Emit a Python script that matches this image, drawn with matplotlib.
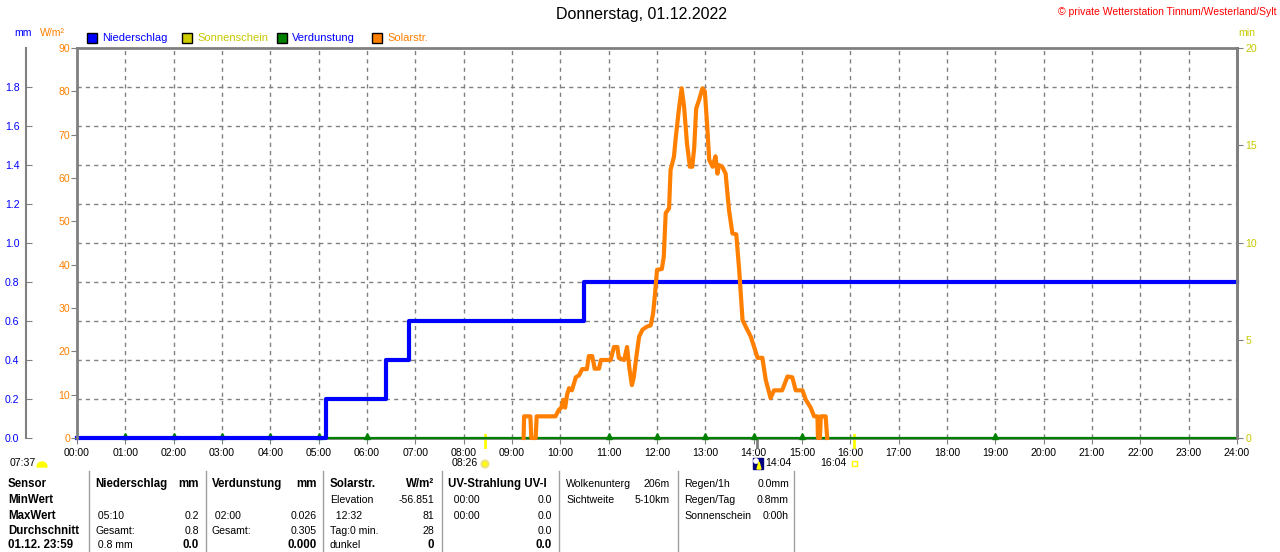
import matplotlib
matplotlib.use('Agg')
import matplotlib.pyplot as plt
import numpy as np
from matplotlib import font_manager
from matplotlib.patches import Rectangle, Wedge, Circle, Polygon
from matplotlib.lines import Line2D
from matplotlib.transforms import IdentityTransform

# --- data -------------------------------------------------------------
hours = list(range(25))
hour_labels = ['%02d:00' % h for h in hours]

# Niederschlag (mm, cumulative)
rain_t = [0.0, 5.15, 6.39, 6.87, 10.48, 24.0]
rain_v = [0.0, 0.2, 0.4, 0.6, 0.8, 0.8]

# Verdunstung (mm)
evap_t = [1, 2, 3, 4, 5, 6, 11, 12, 13, 14, 15, 19]
evap_v = [0.012, 0.012, 0.012, 0.012, 0.012, 0.012, 0.012, 0.012, 0.012, 0.012, 0.012, 0.012]
evap_line_t = [0.0, 24.0]
evap_line_v = [0.0, 0.0]

# Solarstrahlung (W/m2)
sol_t = [9.24, 9.25, 9.38, 9.40, 9.49, 9.51, 9.90, 9.97, 10.02, 10.06, 10.10, 10.14,
         10.18, 10.24, 10.32, 10.39, 10.45, 10.55, 10.59, 10.66, 10.71, 10.80, 10.84,
         11.04, 11.11, 11.18, 11.21, 11.32, 11.38, 11.43, 11.48, 11.52, 11.57, 11.63,
         11.70, 11.79, 11.87, 11.92, 11.96, 12.00, 12.10, 12.14, 12.18, 12.25, 12.28,
         12.35, 12.39, 12.46, 12.51, 12.56, 12.62, 12.68, 12.73, 12.77, 12.81, 12.87,
         12.94, 12.99, 13.04, 13.08, 13.15, 13.21, 13.25, 13.28, 13.35, 13.42, 13.49,
         13.56, 13.64, 13.70, 13.77, 13.84, 13.94, 14.01, 14.08, 14.18, 14.25, 14.35,
         14.42, 14.59, 14.70, 14.80, 14.87, 15.01, 15.08, 15.18, 15.25, 15.32, 15.33,
         15.37, 15.39, 15.49, 15.52]
sol_v = [0, 5, 5, 0, 0, 5, 5, 6.5, 7, 8.8, 7, 10,
         11.5, 11, 14, 14.5, 15.9, 15.9, 18.9, 18.9, 16, 16, 18,
         18, 21, 21, 18.5, 18, 21, 16, 12.2, 14, 18.5, 23.4,
         25, 25.7, 26, 28.8, 33.4, 38.8, 39, 41.8, 51.9, 53, 61.8,
         64.9, 69.5, 76.5, 80.7, 76.5, 68, 62.6, 62.6, 67, 76, 78,
         80.7, 80, 71.8, 64.2, 62.6, 65, 61, 63, 62.6, 61, 52.6,
         47.2, 47, 38.8, 27.2, 25.6, 23.4, 21, 18.5, 18.5, 13.4, 9.2,
         11, 11, 14.2, 14, 11, 11, 8.8, 7, 5, 5, 0,
         0, 5, 5, 0]

mm_ticks = [0.0, 0.2, 0.4, 0.6, 0.8, 1.0, 1.2, 1.4, 1.6, 1.8]
sol_ticks = [0, 10, 20, 30, 40, 50, 60, 70, 80, 90]
min_ticks = [0, 5, 10, 15, 20]

sunrise, sunset, culm = 8.433, 16.067, 14.067

legend_items = ['Niederschlag', 'Sonnenschein', 'Verdunstung', 'Solarstr.']

# table: (x_left, x_right, [(left text, right text, bold left, bold right), ...])
table_cols = [
    (8, None, [('Sensor', '', 1, 0), ('MinWert', '', 1, 0), ('MaxWert', '', 1, 0),
               ('Durchschnitt', '', 1, 0), ('01.12. 23:59', '', 1, 0)]),
    (95, 199, [('Niederschlag', 'mm', 1, 1), ('', '', 0, 0), (' 05:10', '0.2', 0, 0),
               ('Gesamt:', '0.8', 0, 0), (' 0.8 mm', '0.0', 0, 1)]),
    (212, 317, [('Verdunstung', 'mm', 1, 1), ('', '', 0, 0), (' 02:00', '0.026', 0, 0),
                ('Gesamt:', '0.305', 0, 0), ('', '0.000', 0, 1)]),
    (330, 434, [('Solarstr.', 'W/m²', 1, 1), ('Elevation', '-56.851', 0, 0), ('  12:32', '81', 0, 0),
                ('Tag:0 min.', '28', 0, 0), ('dunkel', '0', 0, 1)]),
    (448, 552, [('UV-Strahlung UV-I', '', 1, 0), ('  00:00', '0.0', 0, 0), ('  00:00', '0.0', 0, 0),
                ('', '0.0', 0, 0), ('', '0.0', 0, 1)]),
    (566, 670, [('Wolkenunterg', '206m', 0, 0), ('Sichtweite', '5-10km', 0, 0)]),
    (684, 789, [('Regen/1h', '0.0mm', 0, 0), ('Regen/Tag', '0.8mm', 0, 0),
                ('Sonnenschein', '0:00h', 0, 0)]),
]
table_rows_y = [484, 500, 516, 531, 545]
table_lines_x = [89, 206, 323, 442, 559, 678, 794]

# --- style ------------------------------------------------------------
names = {f.name for f in font_manager.fontManager.ttflist}
if 'Liberation Sans Narrow' in names:
    FONT, K = 'Liberation Sans Narrow', 1 / 0.82
else:
    FONT, K = 'Liberation Sans', 1.0
plt.rcParams['font.family'] = [FONT, 'DejaVu Sans']

BLUE = '#0000FF'
ORANGE = '#FF8000'
YEL = '#C8C800'
GREEN = '#008000'
GREY = '#808080'
TS = 7.6 * K  # tick label size

W, H = 1280, 552
fig = plt.figure(figsize=(12.8, 5.52), dpi=100)
ident = IdentityTransform()


def txt(x, y, s, size=7.6, color='black', ha='left', bold=False):
    fig.text(x / W, 1 - y / H, s, fontsize=size * K, color=color, ha=ha, va='center',
             fontweight='bold' if bold else 'normal')


# --- axes -------------------------------------------------------------
ax = fig.add_axes([77 / W, 114 / H, 1160 / W, 390 / H])
ax.set_xlim(0, 24)
ax.set_ylim(0, 2)
ax.set_xticks(hours)
ax.set_xticklabels(hour_labels)
ax.set_yticks(mm_ticks)
ax.set_yticklabels(['%.1f' % v for v in mm_ticks])
ax.grid(True, color=GREY, linestyle=(0, (3, 3)), linewidth=1)
for s in ['top', 'right', 'bottom']:
    ax.spines[s].set_color(GREY)
    ax.spines[s].set_linewidth(2)
ax.spines['left'].set_position(('outward', 37))
ax.spines['left'].set_color(GREY)
ax.spines['left'].set_linewidth(1.5)

ax.plot(evap_line_t, evap_line_v, color=GREEN, lw=1.6, clip_on=False, zorder=3)
ax.plot(evap_t, evap_v, '^', color=GREEN, ms=4, clip_on=False, zorder=3)
ax.step(rain_t, rain_v, where='post', color=BLUE, lw=3, clip_on=False, zorder=4)

# sunrise / sunset / culmination marks below axis
xt = ax.get_xaxis_transform()
ax.plot([sunrise, sunrise], [0.008, -0.023], color='#FFFF00', lw=2, transform=xt, clip_on=False)
ax.plot([sunset, sunset], [0.008, -0.023], color='#FFFF00', lw=2, transform=xt, clip_on=False)
ax.plot([culm, culm], [0.0, -0.023], color=GREY, lw=2, transform=xt, clip_on=False)

ax_sol = ax.twinx()
ax_sol.yaxis.tick_left()
ax_sol.set_ylim(0, 90)
ax_sol.set_yticks(sol_ticks)
ax_sol.set_yticklabels([str(v) for v in sol_ticks])
for s in ['top', 'right', 'bottom']:
    ax_sol.spines[s].set_visible(False)
ax_sol.spines['left'].set_color(GREY)
ax_sol.spines['left'].set_linewidth(2)
ax_sol.plot(sol_t, sol_v, color=ORANGE, lw=3, clip_on=False)

ax_min = ax.twinx()
ax_min.set_ylim(0, 20)
ax_min.set_yticks(min_ticks)
ax_min.set_yticklabels([str(v) for v in min_ticks])
for s in ['top', 'left', 'bottom']:
    ax_min.spines[s].set_visible(False)
ax_min.spines['right'].set_color(GREY)
ax_min.spines['right'].set_linewidth(2)

# tick styles (after twinx, which rebuilds the left ticks)
ax.tick_params(axis='y', which='both', left=True, right=False, labelleft=True, labelright=False,
               direction='in', length=4, color=GREY, labelcolor=BLUE, pad=4.5, labelsize=TS)
ax.tick_params(axis='x', direction='out', length=4, color=GREY, labelcolor='black', pad=3,
               labelsize=TS)
ax_sol.tick_params(axis='y', direction='out', length=4, color=GREY, labelcolor=ORANGE, pad=1,
                   labelsize=TS)
ax_min.tick_params(axis='y', direction='out', length=4, color=GREY, labelcolor=YEL, pad=2,
                   labelsize=TS)

# --- header texts -----------------------------------------------------
txt(642, 15, 'Donnerstag, 01.12.2022', size=11.5, ha='center')
txt(1276, 12, '© private Wetterstation Tinnum/Westerland/Sylt', size=7.5, color='#FF0000', ha='right')
txt(14, 33, 'mm', color=BLUE)
txt(40, 33, 'W/m²', color=ORANGE)
txt(1238, 33, 'min', color=YEL)

leg_colors = [BLUE, '#CCCC00', GREEN, ORANGE]
leg_text_colors = [BLUE, YEL, BLUE, ORANGE]
for i, name in enumerate(legend_items):
    x0 = 87 + i * 95
    fig.add_artist(Rectangle((x0, H - 43), 10, 10, facecolor=leg_colors[i], edgecolor='black',
                             lw=1, transform=ident))
    txt(x0 + 15, 38, name, size=8.0, color=leg_text_colors[i])

# --- labels below x axis ---------------------------------------------
txt(10, 463, '07:37')
fig.add_artist(Wedge((42, H - 467), 5, 0, 180, facecolor='#FFFF00', edgecolor='#FFFF00', transform=ident))
txt(452, 463, '08:26')
fig.add_artist(Circle((485, H - 464), 3.5, facecolor='#FFFF00', edgecolor='#F0E080', lw=1.5, transform=ident))
fig.add_artist(Rectangle((753, H - 469), 10, 11, facecolor='#000080', edgecolor='#000080', transform=ident))
fig.add_artist(Circle((756, H - 461), 2.2, facecolor='white', edgecolor='white', transform=ident))
fig.add_artist(Polygon([(757, H - 469), (761, H - 469), (759, H - 462)], closed=True,
                       facecolor='#FFFF00', edgecolor='#FFFF00', transform=ident))
txt(765, 463, '14:04')
txt(820, 463, '16:04')
fig.add_artist(Rectangle((852, H - 466), 5, 5, facecolor='none', edgecolor='#FFFF00', lw=1, transform=ident))

# --- table ------------------------------------------------------------
for x in table_lines_x:
    fig.add_artist(Line2D([x, x], [0, H - 471], color='#A0A0A0', lw=1, transform=ident))

for xl, xr, rows in table_cols:
    for (lt, rt, lb, rb), y in zip(rows, table_rows_y):
        if lt:
            txt(xl, y, lt, size=8.3 if lb else 7.6, bold=bool(lb))
        if rt:
            txt(xr, y, rt, size=8.3 if rb else 7.6, bold=bool(rb), ha='right')

fig.savefig('out.png', dpi=100)
